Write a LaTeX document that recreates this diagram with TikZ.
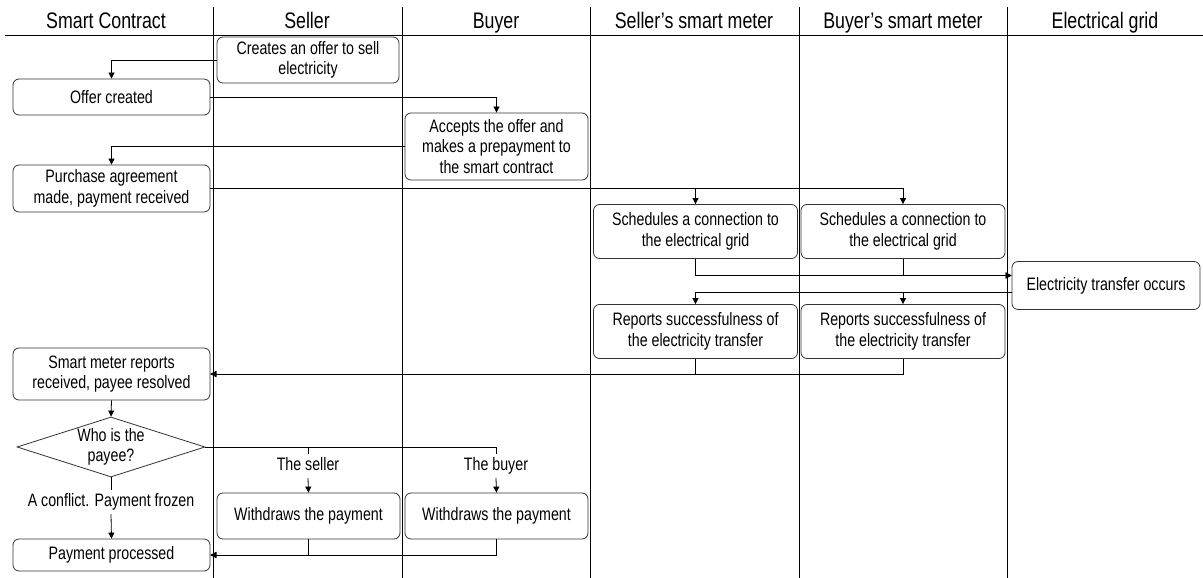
\documentclass[tikz,border=0pt]{standalone}
\usepackage{fontspec}
\setmainfont[FakeStretch=0.79]{Liberation Sans}
\usetikzlibrary{arrows.meta,shapes.geometric}
\newcommand{\myBodyFont}{\fontsize{18}{20.5}\selectfont}
\newcommand{\myHeadFont}{\fontsize{22.5}{24}\selectfont}
\begin{document}
\begin{tikzpicture}[x=1pt,y=-1pt,
  laneline/.style={draw=black, line width=0.8pt},
  box/.style={draw=black!80, rounded corners=6pt, align=center, inner sep=1pt, font=\myBodyFont, line width=0.8pt},
  lbl/.style={font=\myBodyFont, inner sep=0pt, text height=13pt, text depth=4pt, minimum height=24pt},
  head/.style={font=\myHeadFont, inner sep=0pt, anchor=base},
  conn/.style={draw=black, line width=0.8pt},
  arr/.style={conn, -{Triangle[length=6pt,width=6pt]}},
]
\useasboundingbox (0,0) rectangle (1203,578);
% lanes
\draw[laneline] (5,35) -- (1203,35);
\foreach \lx in {213,402,590,799,1007} {\draw[laneline] (\lx,7) -- (\lx,578);}
\node[head] (h1) at (106,29) {Smart Contract};
\node[head] (h2) at (307,29) {Seller};
\node[head] (h3) at (496,29) {Buyer};
\node[head] (h4) at (694,29) {Seller’s smart meter};
\node[head] (h5) at (903,29) {Buyer’s smart meter};
\node[head] (h6) at (1105,29) {Electrical grid};
% boxes
\node[box, minimum width=182pt, minimum height=46pt] (c1) at (308,60) {Creates an offer to sell\\electricity};
\node[box, minimum width=197pt, minimum height=36pt] (c2) at (111.5,97) {Offer created};
\node[box, minimum width=183pt, minimum height=67pt] (c3) at (496.5,146.5) {Accepts the offer and\\makes a prepayment to\\the smart contract};
\node[box, minimum width=197pt, minimum height=47pt] (c4) at (111.5,188.5) {Purchase agreement\\made, payment received};
\node[box, minimum width=204pt, minimum height=54pt] (s1) at (695.5,231.5) {Schedules a connection to\\the electrical grid};
\node[box, minimum width=204pt, minimum height=54pt] (s2) at (903,231.5) {Schedules a connection to\\the electrical grid};
\node[box, minimum width=188pt, minimum height=48pt] (el) at (1106,285.5) {Electricity transfer occurs};
\node[box, minimum width=204pt, minimum height=54pt] (r1) at (695.5,331.5) {Reports successfulness of\\the electricity transfer};
\node[box, minimum width=204pt, minimum height=54pt] (r2) at (903,331.5) {Reports successfulness of\\the electricity transfer};
\node[box, minimum width=197pt, minimum height=52pt] (m) at (111.5,374) {Smart meter reports\\received, payee resolved};
\node[draw=black!80, line width=0.8pt, diamond, aspect=3.13, minimum width=188pt, minimum height=60pt, inner sep=0pt, align=center, font=\myBodyFont] (d) at (111,447) {Who is the\\payee?};
\node[lbl] (ls) at (308,466) {The seller};
\node[lbl] (lb) at (496,466) {The buyer};
\node[lbl] (lc) at (111,502) {A conflict. Payment frozen};
\node[box, minimum width=183pt, minimum height=46pt] (w1) at (308.5,516) {Withdraws the payment};
\node[box, minimum width=183pt, minimum height=46pt] (w2) at (496.5,516) {Withdraws the payment};
\node[box, minimum width=197pt, minimum height=32pt] (p) at (111.5,555) {Payment processed};
% connectors
\draw[arr] (c1.west) -| (c2.north);
\draw[arr] (c2.east) -| (c3.north);
\draw[arr] (c3.west) -| (c4.north);
\draw[arr] (c4.east) -| (s1.north);
\draw[arr] (c4.east) -| (s2.north);
\draw[arr] (s1.south) |- ([yshift=10pt]el.west);
\draw[arr] (s2.south) |- ([yshift=10pt]el.west);
\draw[arr] ([yshift=-7pt]el.west) -| (r1.north);
\draw[arr] ([yshift=-7pt]el.west) -| (r2.north);
\draw[arr] (r1.south) |- (m.east);
\draw[arr] (r2.south) |- (m.east);
\draw[arr] (m.south) -- (d.north);
\draw[conn] (d.east) -| (ls.north);
\draw[conn] (d.east) -| (lb.north);
\draw[arr] (ls.south) -- (w1.north);
\draw[arr] (lb.south) -- (w2.north);
\draw[conn] (d.south) -- (lc.north);
\draw[arr] (lc.south) -- (p.north);
\draw[arr] (w1.south) |- (p.east);
\draw[arr] (w2.south) |- (p.east);
\end{tikzpicture}
\end{document}
